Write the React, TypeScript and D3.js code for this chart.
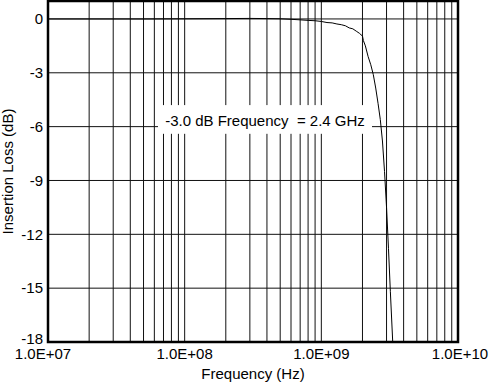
import React, { useEffect, useRef } from 'react';
import * as d3 from 'd3';

const freqHz = [
  1e7, 2e7, 5e7, 1e8, 2e8, 3e8, 4e8, 5e8, 6e8, 7e8, 8e8, 9e8, 1e9, 1.1e9, 1.2e9,
  1.3e9, 1.4e9, 1.5e9, 1.6e9, 1.7e9, 1.8e9, 1.9e9, 1.95e9, 2.0e9, 2.03e9, 2.1e9,
  2.2e9, 2.3e9, 2.4e9, 2.5e9, 2.6e9, 2.7e9, 2.8e9, 2.9e9, 3.0e9, 3.1e9, 3.2e9, 3.33e9,
];
const lossDb = [
  0, 0, 0, 0.01, 0.02, 0.03, 0.02, 0.01, -0.02, -0.05, -0.08, -0.1, -0.14, -0.2, -0.22,
  -0.28, -0.32, -0.38, -0.5, -0.55, -0.68, -0.8, -0.88, -0.95, -1.2, -1.5,
  -2.1, -2.55, -3.1, -3.85, -4.7, -5.6, -6.8, -8.5, -10.5, -12.8, -15.2, -18,
];

const yTicks = [0, -3, -6, -9, -12, -15, -18];
const xDecades = [1e7, 1e8, 1e9, 1e10];
const xTickLabels = ['1.0E+07', '1.0E+08', '1.0E+09', '1.0E+10'];
const annotation = '-3.0 dB Frequency  = 2.4 GHz';

const W = 490;
const H = 386;
const margin = { top: 1, right: 32, bottom: 44, left: 48 };
const font = '"Liberation Sans", Arial, Helvetica, sans-serif';

const App = () => {
  const svgRef = useRef(null);

  useEffect(() => {
    const svg = d3.select(svgRef.current);
    svg.selectAll('*').remove();

    const x = d3.scaleLog().domain([1e7, 1e10]).range([margin.left, W - margin.right]);
    const y = d3.scaleLinear().domain([-18, 1]).range([H - margin.bottom, margin.top]);

    const plot = svg.append('g');

    // minor + major vertical grid lines
    const vGrid = [];
    xDecades.slice(0, -1).forEach(d => {
      for (let k = 1; k <= 9; k++) vGrid.push(d * k);
    });
    vGrid.push(1e10);

    plot.selectAll('.vgrid')
      .data(vGrid)
      .enter().append('line')
      .attr('x1', d => x(d))
      .attr('x2', d => x(d))
      .attr('y1', y(1))
      .attr('y2', y(-18))
      .attr('stroke', '#111')
      .attr('stroke-width', 1);

    plot.selectAll('.hgrid')
      .data(yTicks)
      .enter().append('line')
      .attr('x1', x(1e7))
      .attr('x2', x(1e10))
      .attr('y1', d => y(d))
      .attr('y2', d => y(d))
      .attr('stroke', '#111')
      .attr('stroke-width', 1);

    // annotation box hides the grid behind the text
    svg.append('rect')
      .attr('x', 158)
      .attr('y', y(-4.8))
      .attr('width', 214)
      .attr('height', y(-6.4) - y(-4.8))
      .attr('fill', '#fff');

    svg.append('text')
      .attr('x', 265)
      .attr('y', y(-6) - 1)
      .attr('text-anchor', 'middle')
      .style('white-space', 'pre')
      .style('font-family', font)
      .style('font-size', '15px')
      .attr('fill', '#000')
      .text(annotation);

    // curve
    const clipId = 'plot-clip';
    svg.append('clipPath').attr('id', clipId)
      .append('rect')
      .attr('x', x(1e7)).attr('y', y(1))
      .attr('width', x(1e10) - x(1e7)).attr('height', y(-18) - y(1));

    const pts = freqHz.map((f, i) => [f, lossDb[i]]);
    const line = d3.line().x(d => x(d[0])).y(d => y(d[1]));
    svg.append('path')
      .datum(pts)
      .attr('clip-path', `url(#${clipId})`)
      .attr('d', line)
      .attr('fill', 'none')
      .attr('stroke', '#000')
      .attr('stroke-width', 1);

    // frame
    svg.append('rect')
      .attr('x', x(1e7)).attr('y', y(1))
      .attr('width', x(1e10) - x(1e7)).attr('height', y(-18) - y(1))
      .attr('fill', 'none')
      .attr('stroke', '#000')
      .attr('stroke-width', 2.5);

    // y tick labels
    svg.selectAll('.ylab')
      .data(yTicks)
      .enter().append('text')
      .attr('x', margin.left - 5)
      .attr('y', d => y(d) - (d === -18 ? 3 : 0))
      .attr('dy', '0.35em')
      .attr('text-anchor', 'end')
      .style('font-family', font)
      .style('font-size', '15px')
      .text(d => String(d));

    // x tick labels
    svg.selectAll('.xlab')
      .data(xDecades)
      .enter().append('text')
      .attr('x', (d, i) => x(d) + (i === 0 ? -5 : i === 3 ? 2 : 0))
      .attr('y', H - margin.bottom + 17)
      .attr('text-anchor', 'middle')
      .style('font-family', font)
      .style('font-size', '15px')
      .text((d, i) => xTickLabels[i]);

    svg.append('text')
      .attr('x', (x(1e7) + x(1e10)) / 2)
      .attr('y', H - 7)
      .attr('text-anchor', 'middle')
      .style('font-family', font)
      .style('font-size', '15px')
      .text('Frequency (Hz)');

    svg.append('text')
      .attr('transform', `translate(13, ${(y(1) + y(-18)) / 2}) rotate(-90)`)
      .attr('text-anchor', 'middle')
      .style('font-family', font)
      .style('font-size', '15px')
      .text('Insertion Loss (dB)');
  }, []);

  return (
    <svg
      ref={svgRef}
      width={W}
      height={H}
      style={{ position: 'absolute', left: 0, top: 0, background: '#fff' }}
    />
  );
};

export default App;
